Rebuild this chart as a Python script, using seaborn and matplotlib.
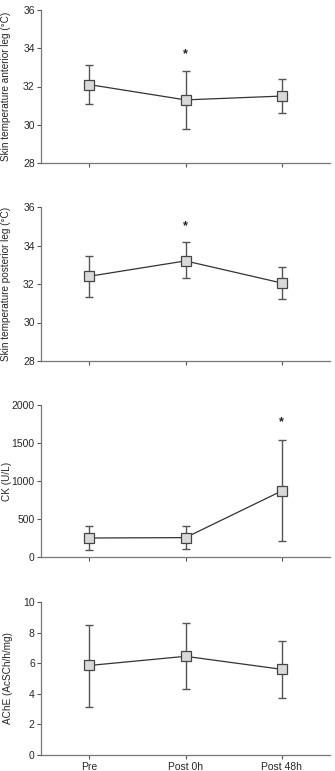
import matplotlib
matplotlib.use("Agg")
import matplotlib.pyplot as plt
import seaborn as sns
import pandas as pd
import numpy as np

sns.set_theme(style="ticks")
plt.rcParams['font.family'] = ['Liberation Sans', 'DejaVu Sans']

times = ["Pre", "Post 0h", "Post 48h"]

ant_mean = [32.1, 31.3, 31.5]
ant_low = [31.1, 29.8, 30.6]
ant_high = [33.1, 32.8, 32.4]

post_mean = [32.4, 33.2, 32.05]
post_low = [31.35, 32.3, 31.2]
post_high = [33.45, 34.2, 32.9]

ck_mean = [250, 255, 870]
ck_low = [90, 105, 205]
ck_high = [410, 410, 1540]

ache_mean = [5.85, 6.45, 5.6]
ache_low = [3.15, 4.3, 3.75]
ache_high = [8.5, 8.6, 7.45]

panels = [
    ("Skin temperature anterior leg (°C)", ant_mean, ant_low, ant_high, (28, 36), [28, 30, 32, 34, 36], ["Post 0h"], 33.7),
    ("Skin temperature posterior leg (°C)", post_mean, post_low, post_high, (28, 36), [28, 30, 32, 34, 36], ["Post 0h"], 35.0),
    ("CK (U/L)", ck_mean, ck_low, ck_high, (0, 2000), [0, 500, 1000, 1500, 2000], ["Post 48h"], 1780),
    ("AChE (AcSCh/h/mg)", ache_mean, ache_low, ache_high, (0, 10), [0, 2, 4, 6, 8, 10], [], None),
]
label_x_px = [6, 6, 6.5, 8.5]

W, H = 335, 771
fig = plt.figure(figsize=(W / 100, H / 100), dpi=100)
tops = [10, 207, 405, 602]
bottoms = [163, 361, 557, 755]
left, right = 41, 330

for i, (label, mean, low, high, ylim, yticks, stars, star_y) in enumerate(panels):
    ax = fig.add_axes([left / W, 1 - bottoms[i] / H, (right - left) / W, (bottoms[i] - tops[i]) / H])
    df = pd.DataFrame({"time": times, "value": mean, "pos": [0, 1, 2]})
    mean_a = np.array(mean)
    yerr = [mean_a - np.array(low), np.array(high) - mean_a]
    ax.errorbar(df["pos"], df["value"], yerr=yerr, fmt="none", ecolor="#555555",
                elinewidth=1.0, capsize=3.2, capthick=1.0, zorder=2)
    sns.lineplot(data=df, x="pos", y="value", ax=ax, color="#333333", linewidth=0.9,
                 marker="s", markersize=7, markerfacecolor="#d9d9d9",
                 markeredgecolor="#444444", markeredgewidth=0.9, zorder=3)
    for s in stars:
        ax.text(times.index(s), star_y, "*", ha="center", va="center", fontsize=9,
                fontweight="bold", color="#222222")
    ax.set_xlim(-0.5, 2.5)
    ax.set_ylim(*ylim)
    ax.set_yticks(yticks)
    ax.set_xticks([0, 1, 2])
    if i == 3:
        ax.set_xticklabels(times, fontsize=7.5)
    else:
        ax.set_xticklabels([])
    ax.set_xlabel("")
    ax.set_ylabel(label, fontsize=7.2)
    ax.yaxis.label.set_va("center")
    ax.yaxis.set_label_coords((label_x_px[i] - left) / (right - left), 0.5)
    ax.tick_params(axis="y", labelsize=7.5, length=3, width=0.8, color="#555555", pad=1.5)
    ax.tick_params(axis="x", length=3, width=0.8, color="#555555", pad=2)
    for sp in ["top", "right"]:
        ax.spines[sp].set_visible(False)
    for sp in ["left", "bottom"]:
        ax.spines[sp].set_color("#777777")
        ax.spines[sp].set_linewidth(0.9)

fig.savefig("out.png", dpi=100)
